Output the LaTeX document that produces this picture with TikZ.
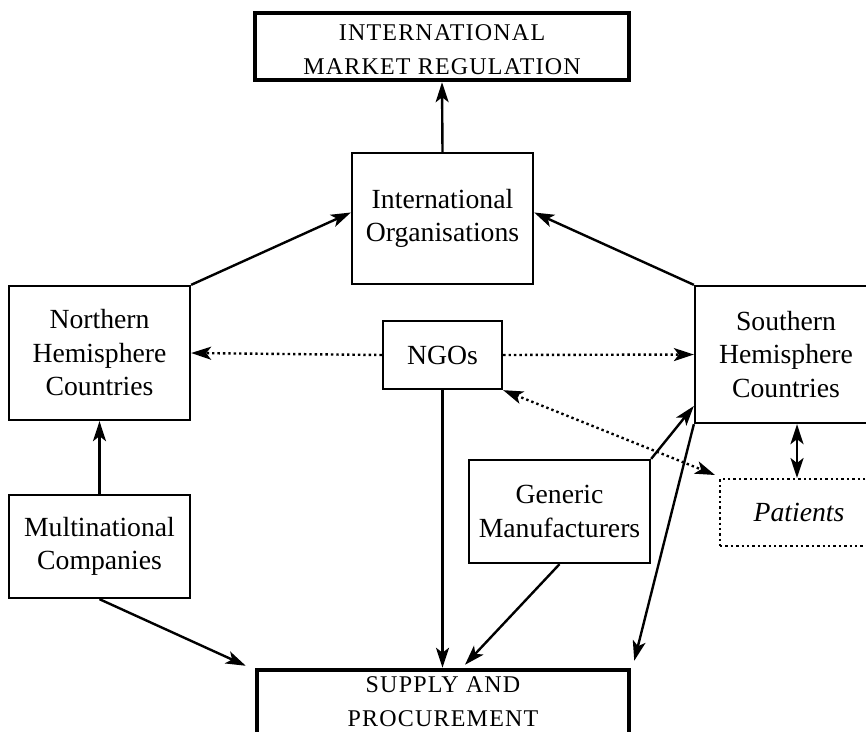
\documentclass[tikz,border=0pt]{standalone}
\usepackage{fontspec}
\setmainfont{Liberation Serif}
\newfontfamily\capsfont[LetterSpace=5]{Liberation Serif}
\usetikzlibrary{arrows.meta,calc}
\begin{document}
\begin{tikzpicture}[x=1pt,y=-1pt,
  box/.style={draw,line width=2.3pt,align=center,inner sep=0pt,font=\fontsize{27.7}{33.5}\selectfont},
  capbox/.style={draw,line width=4.5pt,align=center,inner sep=0pt},
  captext/.style={align=center,inner sep=0pt,font=\capsfont\fontsize{24}{34}\selectfont},
  tip/.tip={Stealth[length=20pt,width=13pt,inset=5pt]},
  arr/.style={line width=2.4pt,-tip},
  arrboth/.style={line width=2.4pt,tip-tip},
  dotline/.style={line width=2.4pt,dash pattern=on 2.4pt off 3pt}]
\useasboundingbox (0,0) rectangle (866,731);
\clip (0,0) rectangle (866,731);
\node[capbox,minimum width=374pt,minimum height=67pt] (IMR) at (442,46.5) {};
\node[captext] (IMRt) at ($(IMR.center)+(0,3)$) {INTERNATIONAL\\MARKET REGULATION};
\node[box,minimum width=181pt,minimum height=131pt] (IO) at (442.5,218.5) {International\\Organisations};
\node[box,minimum width=181pt,minimum height=134pt] (N) at (99.5,353) {Northern\\Hemisphere\\Countries};
\node[box,minimum width=119pt,minimum height=68pt] (NGO) at (442.5,355) {NGOs};
\node[box,minimum width=182pt,minimum height=137pt] (S) at (786,354.5) {Southern\\Hemisphere\\Countries};
\node[box,dotline,line width=2pt,minimum width=158pt,minimum height=67pt] (P) at (799,512.5) {\itshape Patients};
\node[box,minimum width=181pt,minimum height=103pt] (G) at (559.5,511.5) {Generic\\Manufacturers};
\node[box,minimum width=181pt,minimum height=103pt] (M) at (99.5,546.5) {Multinational\\Companies};
\node[capbox,minimum width=372pt,minimum height=67pt] (SP) at (443,703.5) {};
\node[captext] (SPt) at ($(SP.center)+(0,-2)$) {SUPPLY AND\\PROCUREMENT};
\draw[arr] (IO.north) -- (IMR.south);
\draw[arr] (N.north east) -- ($(IO.west)+(0,-6)$);
\draw[arr] (S.north west) -- ($(IO.east)+(0,-6)$);
\draw[dotline,-tip] (NGO.west) -- (N.east);
\draw[dotline,-tip] (NGO.east) -- (S.west);
\draw[dotline,tip-tip] (NGO.south east) -- ($(P.north west)+(-4,-3)$);
\draw[arrboth] ($(P.north)+(-2,0)$) -- ($(P.north |- S.south)+(-2,0)$);
\draw[arr] (M.north) -- (N.south);
\draw[arr] (NGO.south) -- (NGO.south |- SP.north);
\draw[arr] (G.north east) -- ($(S.west)+(0,51.5)$);
\draw[arr] (G.south) -- ($(SP.north)+(22,-3)$);
\draw[arr] (S.south west) -- ($(SP.north east)+(3,-7)$);
\draw[arr] (M.south) -- ($(SP.north west)+(-9,-2)$);
\end{tikzpicture}
\end{document}
